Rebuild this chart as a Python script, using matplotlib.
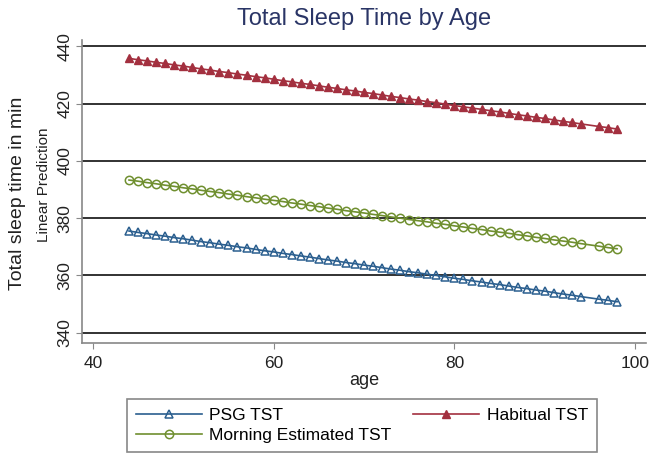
import matplotlib
matplotlib.use("Agg")
import matplotlib.pyplot as plt

plt.rcParams["font.family"] = ["Liberation Sans", "DejaVu Sans"]

# Linear predictions of total sleep time (min) by age
ages = [44, 45, 46, 47, 48, 49, 50, 51, 52, 53, 54, 55, 56, 57, 58, 59, 60,
        61, 62, 63, 64, 65, 66, 67, 68, 69, 70, 71, 72, 73, 74, 75, 76, 77,
        78, 79, 80, 81, 82, 83, 84, 85, 86, 87, 88, 89, 90, 91, 92, 93, 94,
        96, 97, 98]

psg_tst = [375.5, 375.0, 374.6, 374.1, 373.7, 373.2, 372.8, 372.3, 371.8, 371.4,
           370.9, 370.5, 370.0, 369.6, 369.1, 368.6, 368.2, 367.7, 367.3, 366.8,
           366.4, 365.9, 365.4, 365.0, 364.5, 364.1, 363.6, 363.2, 362.7, 362.2,
           361.8, 361.3, 360.9, 360.4, 360.0, 359.5, 359.0, 358.6, 358.1, 357.7,
           357.2, 356.8, 356.3, 355.8, 355.4, 354.9, 354.5, 354.0, 353.5, 353.1,
           352.6, 351.7, 351.3, 350.8]

habitual_tst = [435.8, 435.3, 434.9, 434.4, 434.0, 433.5, 433.1, 432.6, 432.1, 431.7,
                431.2, 430.8, 430.3, 429.9, 429.4, 429.0, 428.5, 428.0, 427.6, 427.1,
                426.7, 426.2, 425.7, 425.3, 424.8, 424.4, 423.9, 423.5, 423.0, 422.5,
                422.1, 421.6, 421.2, 420.7, 420.3, 419.8, 419.3, 418.9, 418.4, 418.0,
                417.5, 417.1, 416.6, 416.1, 415.7, 415.2, 414.8, 414.3, 413.8, 413.4,
                412.9, 412.0, 411.6, 411.1]

morning_tst = [393.3, 392.9, 392.4, 392.0, 391.5, 391.1, 390.6, 390.2, 389.7, 389.3,
               388.9, 388.4, 388.0, 387.5, 387.1, 386.6, 386.2, 385.8, 385.3, 384.9,
               384.4, 384.0, 383.5, 383.1, 382.6, 382.2, 381.8, 381.3, 380.9, 380.4,
               380.0, 379.5, 379.1, 378.7, 378.2, 377.8, 377.3, 376.9, 376.4, 376.0,
               375.5, 375.1, 374.7, 374.2, 373.8, 373.3, 372.9, 372.4, 372.0, 371.6,
               371.1, 370.2, 369.7, 369.3]

y_ticks = [340, 360, 380, 400, 420, 440]
x_ticks = [40, 60, 80, 100]

COLOR_PSG = "#2b5f8f"
COLOR_HAB = "#a3303f"
COLOR_MORN = "#6f8f2f"
COLOR_TITLE = "#2a3566"

fig = plt.figure(figsize=(6.5, 4.54), dpi=100)
ax = fig.add_axes([82 / 650, 1 - 343 / 454, 564 / 650, 303 / 454])

for y in y_ticks:
    ax.axhline(y, color="#222222", linewidth=1.3, zorder=1)

l_psg, = ax.plot(ages, psg_tst, color=COLOR_PSG, linewidth=1.2, marker="^",
                 markersize=6, markerfacecolor="none", markeredgecolor=COLOR_PSG,
                 markeredgewidth=1.1, label="PSG TST", zorder=3)
l_hab, = ax.plot(ages, habitual_tst, color=COLOR_HAB, linewidth=1.2, marker="^",
                 markersize=5.5, markerfacecolor=COLOR_HAB, markeredgecolor=COLOR_HAB,
                 label="Habitual TST", zorder=3)
l_morn, = ax.plot(ages, morning_tst, color=COLOR_MORN, linewidth=1.2, marker="o",
                  markersize=6, markerfacecolor="none", markeredgecolor=COLOR_MORN,
                  markeredgewidth=1.1, label="Morning Estimated TST", zorder=3)

ax.set_xlim(38.8, 101.2)
ax.set_ylim(336.4, 442.2)
ax.set_xticks(x_ticks)
ax.set_yticks(y_ticks)
ax.tick_params(axis="both", direction="out", length=4, color="#888888",
               labelsize=12.5, labelcolor="#222222")
ax.tick_params(axis="x", pad=5)
ax.tick_params(axis="y", labelrotation=90, pad=3)
for lbl in ax.get_yticklabels():
    lbl.set_va("center")

for side in ["top", "right"]:
    ax.spines[side].set_visible(False)
for side in ["left", "bottom"]:
    ax.spines[side].set_color("#888888")
    ax.spines[side].set_linewidth(1.2)

ax.set_xlabel("age", fontsize=13, color="#222222", labelpad=1)
fig.text(18 / 650, 1 - 193 / 454, "Total sleep time in min", rotation=90,
         fontsize=14, ha="center", va="center", color="#222222")
fig.text(44 / 650, 1 - 185 / 454, "Linear Prediction", rotation=90,
         fontsize=11, ha="center", va="center", color="#222222")
fig.text(364 / 650, 1 - 19 / 454, "Total Sleep Time by Age", fontsize=17,
         ha="center", va="center", color=COLOR_TITLE)

leg = fig.legend(handles=[l_psg, l_morn, l_hab], ncol=2, mode="expand",
                 loc="lower left",
                 bbox_to_anchor=(127 / 650, 1 - 452 / 454, 470 / 650, 54 / 454),
                 fontsize=12.5, frameon=True, fancybox=False, borderaxespad=0,
                 handlelength=3.8, handletextpad=0.45, labelspacing=0.3,
                 borderpad=0.5, edgecolor="#888888", framealpha=1)
leg.get_frame().set_linewidth(1.2)

fig.savefig("out.png", dpi=100)
